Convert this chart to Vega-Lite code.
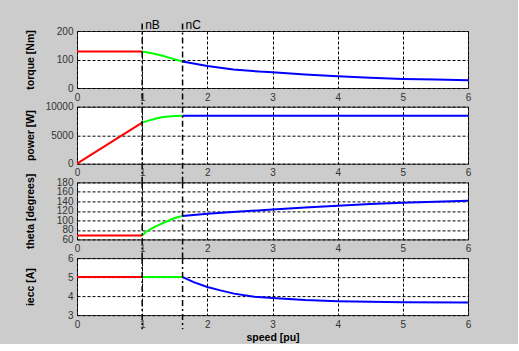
{
  "$schema": "https://vega.github.io/schema/vega-lite/v6.json",
  "background": "#cccccc",
  "padding": {"left": 25, "top": 18, "right": 45, "bottom": 0},
  "spacing": 18.7,
  "bounds": "flush",
  "datasets": {
    "curves": [
      {"var": "torque", "seg": "a", "speed": 0, "v": 128},
      {"var": "torque", "seg": "a", "speed": 1, "v": 128},
      {"var": "torque", "seg": "b", "speed": 1, "v": 128},
      {"var": "torque", "seg": "b", "speed": 1.15, "v": 122},
      {"var": "torque", "seg": "b", "speed": 1.3, "v": 114},
      {"var": "torque", "seg": "b", "speed": 1.45, "v": 104},
      {"var": "torque", "seg": "b", "speed": 1.62, "v": 93},
      {"var": "torque", "seg": "c", "speed": 1.62, "v": 93},
      {"var": "torque", "seg": "c", "speed": 2, "v": 77},
      {"var": "torque", "seg": "c", "speed": 2.4, "v": 65},
      {"var": "torque", "seg": "c", "speed": 2.8, "v": 57.5},
      {"var": "torque", "seg": "c", "speed": 3, "v": 55},
      {"var": "torque", "seg": "c", "speed": 3.5, "v": 47},
      {"var": "torque", "seg": "c", "speed": 4, "v": 41},
      {"var": "torque", "seg": "c", "speed": 4.5, "v": 36},
      {"var": "torque", "seg": "c", "speed": 5, "v": 32},
      {"var": "torque", "seg": "c", "speed": 5.5, "v": 29.5},
      {"var": "torque", "seg": "c", "speed": 6, "v": 27.5},
      {"var": "power", "seg": "a", "speed": 0, "v": 0},
      {"var": "power", "seg": "a", "speed": 1, "v": 7200},
      {"var": "power", "seg": "b", "speed": 1, "v": 7200},
      {"var": "power", "seg": "b", "speed": 1.1, "v": 7560},
      {"var": "power", "seg": "b", "speed": 1.2, "v": 7900},
      {"var": "power", "seg": "b", "speed": 1.3, "v": 8150},
      {"var": "power", "seg": "b", "speed": 1.4, "v": 8300},
      {"var": "power", "seg": "b", "speed": 1.5, "v": 8380},
      {"var": "power", "seg": "b", "speed": 1.62, "v": 8420},
      {"var": "power", "seg": "c", "speed": 1.62, "v": 8420},
      {"var": "power", "seg": "c", "speed": 6, "v": 8420},
      {"var": "theta", "seg": "a", "speed": 0, "v": 68},
      {"var": "theta", "seg": "a", "speed": 1, "v": 68},
      {"var": "theta", "seg": "b", "speed": 1, "v": 68},
      {"var": "theta", "seg": "b", "speed": 1.05, "v": 75},
      {"var": "theta", "seg": "b", "speed": 1.12, "v": 81},
      {"var": "theta", "seg": "b", "speed": 1.2, "v": 87},
      {"var": "theta", "seg": "b", "speed": 1.33, "v": 95},
      {"var": "theta", "seg": "b", "speed": 1.48, "v": 104},
      {"var": "theta", "seg": "b", "speed": 1.62, "v": 109.5},
      {"var": "theta", "seg": "c", "speed": 1.62, "v": 109.5},
      {"var": "theta", "seg": "c", "speed": 2, "v": 114},
      {"var": "theta", "seg": "c", "speed": 2.5, "v": 118.5},
      {"var": "theta", "seg": "c", "speed": 3, "v": 123},
      {"var": "theta", "seg": "c", "speed": 3.5, "v": 127},
      {"var": "theta", "seg": "c", "speed": 4, "v": 131},
      {"var": "theta", "seg": "c", "speed": 4.5, "v": 134.5},
      {"var": "theta", "seg": "c", "speed": 5, "v": 137},
      {"var": "theta", "seg": "c", "speed": 5.5, "v": 139.5},
      {"var": "theta", "seg": "c", "speed": 6, "v": 141.5},
      {"var": "iecc", "seg": "a", "speed": 0, "v": 5},
      {"var": "iecc", "seg": "a", "speed": 1, "v": 5},
      {"var": "iecc", "seg": "b", "speed": 1, "v": 5},
      {"var": "iecc", "seg": "b", "speed": 1.62, "v": 5},
      {"var": "iecc", "seg": "c", "speed": 1.62, "v": 5},
      {"var": "iecc", "seg": "c", "speed": 1.8, "v": 4.72},
      {"var": "iecc", "seg": "c", "speed": 2, "v": 4.48},
      {"var": "iecc", "seg": "c", "speed": 2.2, "v": 4.3},
      {"var": "iecc", "seg": "c", "speed": 2.41, "v": 4.13},
      {"var": "iecc", "seg": "c", "speed": 2.72, "v": 3.97},
      {"var": "iecc", "seg": "c", "speed": 3, "v": 3.9},
      {"var": "iecc", "seg": "c", "speed": 3.5, "v": 3.79},
      {"var": "iecc", "seg": "c", "speed": 4, "v": 3.73},
      {"var": "iecc", "seg": "c", "speed": 4.5, "v": 3.7},
      {"var": "iecc", "seg": "c", "speed": 5, "v": 3.68},
      {"var": "iecc", "seg": "c", "speed": 6, "v": 3.66}
    ],
    "markers": [
      {"speed": 1, "name": "nB"},
      {"speed": 1.62, "name": "nC"}
    ]
  },
  "vconcat": [
    {
      "width": 391, "height": 57,
      "encoding": {
        "x": {"field": "speed", "type": "quantitative", "scale": {"domain": [0, 6], "nice": false}, "axis": {"values": [0,1,2,3,4,5,6], "format": "d", "title": null}}
      },
      "layer": [
        {
          "data": {"name": "curves"},
          "transform": [{"filter": "datum.var === 'torque'"}],
          "mark": {"type": "line", "strokeWidth": 2},
          "encoding": {
            "y": {"field": "v", "type": "quantitative", "scale": {"domain": [0, 200], "nice": false}, "axis": {"values": [0,100,200], "format": "d", "title": "torque [Nm]", "titleX": -46.5, "titleY": 28.5, "titleBaseline": "middle"}},
            "color": {"field": "seg", "type": "nominal", "scale": {"domain": ["a","b","c"], "range": ["#ff0000","#00ff00","#0000ff"]}, "legend": null}
          }
        },
        {
          "data": {"name": "markers"},
          "mark": {"type": "rule", "color": "#000000", "strokeWidth": 1.5, "strokeDash": [6,3,2,3]},
          "encoding": {
            "y": {"datum": 226, "type": "quantitative", "scale": {"domain": [0, 200], "nice": false}, "axis": {"values": [0,100,200], "format": "d", "title": "torque [Nm]", "titleX": -46.5, "titleY": 28.5, "titleBaseline": "middle"}},
            "y2": {"datum": -67}
          }
        },
        {
          "data": {"name": "markers"},
          "mark": {"type": "text", "align": "left", "baseline": "alphabetic", "dx": 3, "font": "Liberation Sans", "fontSize": 12, "color": "#000000"},
          "encoding": {
            "y": {"datum": 207, "type": "quantitative", "scale": {"domain": [0, 200], "nice": false}, "axis": {"values": [0,100,200], "format": "d", "title": "torque [Nm]", "titleX": -46.5, "titleY": 28.5, "titleBaseline": "middle"}},
            "text": {"field": "name"}
          }
        }
      ]
    },
    {
      "width": 391, "height": 57,
      "encoding": {
        "x": {"field": "speed", "type": "quantitative", "scale": {"domain": [0, 6], "nice": false}, "axis": {"values": [0,1,2,3,4,5,6], "format": "d", "title": null}}
      },
      "layer": [
        {
          "data": {"name": "curves"},
          "transform": [{"filter": "datum.var === 'power'"}],
          "mark": {"type": "line", "strokeWidth": 2},
          "encoding": {
            "y": {"field": "v", "type": "quantitative", "scale": {"domain": [0, 10000], "nice": false}, "axis": {"values": [0,5000,10000], "format": "d", "title": "power [W]", "titleX": -46.5, "titleY": 28.5, "titleBaseline": "middle"}},
            "color": {"field": "seg", "type": "nominal", "scale": {"domain": ["a","b","c"], "range": ["#ff0000","#00ff00","#0000ff"]}, "legend": null}
          }
        },
        {
          "data": {"name": "markers"},
          "mark": {"type": "rule", "color": "#000000", "strokeWidth": 1.5, "strokeDash": [6,3,2,3]},
          "encoding": {
            "y": {"datum": 10000, "type": "quantitative", "scale": {"domain": [0, 10000], "nice": false}, "axis": {"values": [0,5000,10000], "format": "d", "title": "power [W]", "titleX": -46.5, "titleY": 28.5, "titleBaseline": "middle"}},
            "y2": {"datum": -3333}
          }
        }
      ]
    },
    {
      "width": 391, "height": 57,
      "encoding": {
        "x": {"field": "speed", "type": "quantitative", "scale": {"domain": [0, 6], "nice": false}, "axis": {"values": [0,1,2,3,4,5,6], "format": "d", "title": null}}
      },
      "layer": [
        {
          "data": {"name": "curves"},
          "transform": [{"filter": "datum.var === 'theta'"}],
          "mark": {"type": "line", "strokeWidth": 2},
          "encoding": {
            "y": {"field": "v", "type": "quantitative", "scale": {"domain": [60, 180], "nice": false}, "axis": {"values": [60,80,100,120,140,160,180], "format": "d", "title": "theta [degrees]", "titleX": -46.5, "titleY": 28.5, "titleBaseline": "middle"}},
            "color": {"field": "seg", "type": "nominal", "scale": {"domain": ["a","b","c"], "range": ["#ff0000","#00ff00","#0000ff"]}, "legend": null}
          }
        },
        {
          "data": {"name": "markers"},
          "mark": {"type": "rule", "color": "#000000", "strokeWidth": 1.5, "strokeDash": [6,3,2,3]},
          "encoding": {
            "y": {"datum": 180, "type": "quantitative", "scale": {"domain": [60, 180], "nice": false}, "axis": {"values": [60,80,100,120,140,160,180], "format": "d", "title": "theta [degrees]", "titleX": -46.5, "titleY": 28.5, "titleBaseline": "middle"}},
            "y2": {"datum": 20}
          }
        }
      ]
    },
    {
      "width": 391, "height": 57,
      "encoding": {
        "x": {"field": "speed", "type": "quantitative", "scale": {"domain": [0, 6], "nice": false}, "axis": {"values": [0,1,2,3,4,5,6], "format": "d", "title": "speed [pu]", "titlePadding": 3}}
      },
      "layer": [
        {
          "data": {"name": "curves"},
          "transform": [{"filter": "datum.var === 'iecc'"}],
          "mark": {"type": "line", "strokeWidth": 2},
          "encoding": {
            "y": {"field": "v", "type": "quantitative", "scale": {"domain": [3, 6], "nice": false}, "axis": {"values": [3,4,5,6], "format": "d", "title": "iecc [A]", "titleX": -46.5, "titleY": 28.5, "titleBaseline": "middle"}},
            "color": {"field": "seg", "type": "nominal", "scale": {"domain": ["a","b","c"], "range": ["#ff0000","#00ff00","#0000ff"]}, "legend": null}
          }
        },
        {
          "data": {"name": "markers"},
          "mark": {"type": "rule", "color": "#000000", "strokeWidth": 1.5, "strokeDash": [6,3,2,3]},
          "encoding": {
            "y": {"datum": 6, "type": "quantitative", "scale": {"domain": [3, 6], "nice": false}, "axis": {"values": [3,4,5,6], "format": "d", "title": "iecc [A]", "titleX": -46.5, "titleY": 28.5, "titleBaseline": "middle"}},
            "y2": {"datum": 2.26}
          }
        }
      ]
    }
  ],
  "config": {
    "view": {"fill": "#ffffff", "stroke": "#333333", "strokeWidth": 1},
    "axis": {
      "grid": true, "gridColor": "#000000", "gridDash": [3, 2], "gridOpacity": 1, "gridWidth": 1,
      "domain": false, "ticks": false,
      "labelFont": "Liberation Sans", "labelFontSize": 10, "labelColor": "#333333", "labelPadding": 4,
      "labelFlush": false, "labelOverlap": false, "labelBound": false,
      "titleFont": "Liberation Sans", "titleFontSize": 10.5, "titleFontWeight": "bold", "titleColor": "#000000"
    }
  }
}
